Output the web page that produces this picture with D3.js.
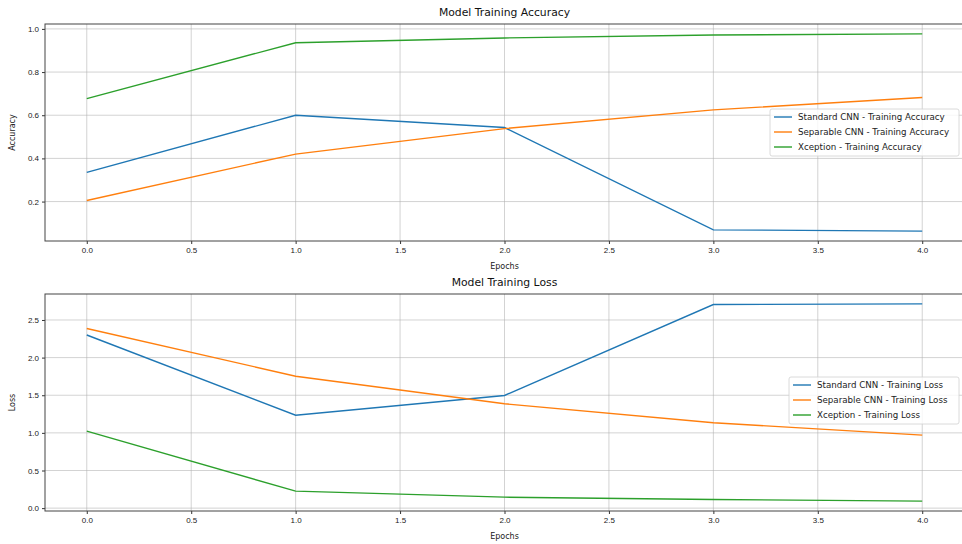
<!DOCTYPE html>
<html>
<head>
<meta charset="utf-8">
<script src="https://cdn.jsdelivr.net/npm/d3@7"></script>
<style>
  body { margin: 0; background: #fff; }
  svg { font-family: "DejaVu Sans", sans-serif; }
  .tick text { fill: #222; }
</style>
</head>
<body>
<div id="chart"></div>
<script>
var epochs = [0, 1, 2, 3, 4];
var xTicks = [0.0, 0.5, 1.0, 1.5, 2.0, 2.5, 3.0, 3.5, 4.0];

var stdAcc = [0.335, 0.600, 0.543, 0.069, 0.063];
var sepAcc = [0.205, 0.420, 0.538, 0.625, 0.682];
var xcpAcc = [0.677, 0.936, 0.958, 0.972, 0.977];

var stdLoss = [2.300, 1.235, 1.497, 2.705, 2.714];
var sepLoss = [2.386, 1.753, 1.386, 1.134, 0.970];
var xcpLoss = [1.023, 0.226, 0.146, 0.115, 0.093];

var accTicks = [0.2, 0.4, 0.6, 0.8, 1.0];
var lossTicks = [0.0, 0.5, 1.0, 1.5, 2.0, 2.5];

var seriesNames = ["Standard CNN", "Separable CNN", "Xception"];
var colors = ["#1f77b4", "#ff7f0e", "#2ca02c"];

var svgWidth = 962, svgHeight = 544;

var svg = d3.select("#chart")
  .append("svg")
  .attr("width", svgWidth)
  .attr("height", svgHeight);

function padDomain(arrs) {
  var all = d3.merge(arrs);
  var lo = d3.min(all), hi = d3.max(all);
  var pad = (hi - lo) * 0.05;
  return [lo - pad, hi + pad];
}

function drawPanel(opts) {
  var x = d3.scaleLinear()
    .domain([-0.2, 4.2])
    .range([opts.left, opts.right]);

  var y = d3.scaleLinear()
    .domain(padDomain(opts.series))
    .range([opts.bottom, opts.top]);

  var g = svg.append("g");

  // grid
  g.append("g").selectAll("line.vg")
    .data(xTicks)
    .enter()
    .append("line")
    .attr("x1", d => x(d)).attr("x2", d => x(d))
    .attr("y1", opts.top).attr("y2", opts.bottom)
    .attr("stroke", "#b0b0b0")
    .attr("stroke-width", 0.8)
    .attr("stroke-opacity", 0.7);

  g.append("g").selectAll("line.hg")
    .data(opts.yTicks)
    .enter()
    .append("line")
    .attr("x1", opts.left).attr("x2", opts.right)
    .attr("y1", d => y(d)).attr("y2", d => y(d))
    .attr("stroke", "#b0b0b0")
    .attr("stroke-width", 0.8)
    .attr("stroke-opacity", 0.7);

  // lines
  var line = d3.line()
    .x((d, i) => x(epochs[i]))
    .y(d => y(d));

  opts.series.forEach(function(s, i) {
    g.append("path")
      .datum(s)
      .attr("fill", "none")
      .attr("stroke", colors[i])
      .attr("stroke-width", 1.4)
      .attr("d", line);
  });

  // axes
  var bottomAxis = d3.axisBottom(x)
    .tickValues(xTicks)
    .tickFormat(d3.format(".1f"))
    .tickSize(3)
    .tickPadding(3);
  var leftAxis = d3.axisLeft(y)
    .tickValues(opts.yTicks)
    .tickFormat(d3.format(".1f"))
    .tickSize(3)
    .tickPadding(3);

  var xa = g.append("g")
    .attr("transform", `translate(0, ${opts.bottom})`)
    .call(bottomAxis);
  var ya = g.append("g")
    .attr("transform", `translate(${opts.left}, 0)`)
    .call(leftAxis);
  [xa, ya].forEach(function(a) {
    a.select(".domain").remove();
    a.selectAll(".tick line").attr("stroke", "#333");
    a.selectAll(".tick text").attr("font-size", "8px");
  });

  // frame
  g.append("rect")
    .attr("x", opts.left)
    .attr("y", opts.top)
    .attr("width", opts.right - opts.left)
    .attr("height", opts.bottom - opts.top)
    .attr("fill", "none")
    .attr("stroke", "#444")
    .attr("stroke-width", 1);

  // title + labels
  g.append("text")
    .attr("x", x(2))
    .attr("y", opts.top - 8)
    .attr("text-anchor", "middle")
    .attr("font-size", "10.8px")
    .attr("fill", "#111")
    .text(opts.title);

  g.append("text")
    .attr("x", x(2))
    .attr("y", opts.bottom + 28)
    .attr("text-anchor", "middle")
    .attr("font-size", "8px")
    .attr("fill", "#222")
    .text("Epochs");

  g.append("text")
    .attr("transform", `translate(15, ${(opts.top + opts.bottom) / 2}) rotate(-90)`)
    .attr("text-anchor", "middle")
    .attr("font-size", "8px")
    .attr("fill", "#222")
    .text(opts.yLabel);

  // legend
  var lg = g.append("g")
    .attr("transform", `translate(${opts.legX}, ${opts.legY})`);
  lg.append("rect")
    .attr("width", opts.legW)
    .attr("height", 47)
    .attr("rx", 2)
    .attr("fill", "#fff")
    .attr("fill-opacity", 0.8)
    .attr("stroke", "#d0d0d0")
    .attr("stroke-width", 0.8);
  seriesNames.forEach(function(name, i) {
    var ry = 8 + i * 15;
    lg.append("line")
      .attr("x1", 4).attr("x2", 22)
      .attr("y1", ry).attr("y2", ry)
      .attr("stroke", colors[i])
      .attr("stroke-width", 1.4);
    lg.append("text")
      .attr("x", 28)
      .attr("y", ry + 3)
      .attr("font-size", "8.7px")
      .attr("fill", "#222")
      .text(name + " - " + opts.legSuffix);
  });
}

drawPanel({
  left: 45, right: 964, top: 24, bottom: 241,
  series: [stdAcc, sepAcc, xcpAcc],
  yTicks: accTicks,
  title: "Model Training Accuracy",
  yLabel: "Accuracy",
  legX: 770, legY: 109, legW: 189,
  legSuffix: "Training Accuracy"
});

drawPanel({
  left: 45, right: 964, top: 294, bottom: 511,
  series: [stdLoss, sepLoss, xcpLoss],
  yTicks: lossTicks,
  title: "Model Training Loss",
  yLabel: "Loss",
  legX: 789, legY: 377, legW: 170,
  legSuffix: "Training Loss"
});
</script>
</body>
</html>
